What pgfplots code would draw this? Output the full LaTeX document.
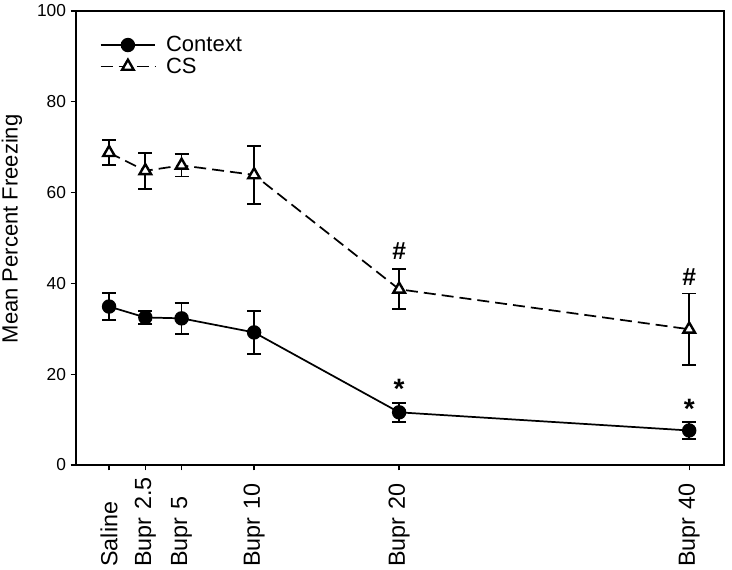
\documentclass[border=0pt]{standalone}
\usepackage{pgfplots}
\pgfplotsset{compat=1.18}
\usepackage{fontspec}
\setmainfont{Liberation Sans}
\begin{document}
\begin{tikzpicture}
\begin{axis}[
  width=486pt, height=340.5pt, scale only axis,
  xmin=-2.28, xmax=42.4, ymin=0, ymax=100,
  xtick={0,2.5,5,10,20,40},
  xticklabels={Saline,Bupr 2.5,Bupr 5,Bupr 10,Bupr 20,Bupr 40},
  ytick={0,20,40,60,80,100},
  tick pos=left, tick align=outside, major tick length=4pt,
  axis line style={line width=1pt}, tick style={line width=1pt, black},
  /pgf/number format/assume math mode=true,
  yticklabel style={font=\fontsize{13}{15}\selectfont},
  xticklabel style={font=\fontsize{17.5}{21}\selectfont, rotate=90, anchor=east, text width=71pt, align=left, inner sep=1pt},
  ylabel={Mean Percent Freezing},
  ylabel style={font=\fontsize{16.5}{20}\selectfont, at={(axis description cs:-0.0756,0.52)}, anchor=south},
  clip=false,
  legend style={draw=none, fill=none, at={(axis description cs:0.03,0.955)}, anchor=north west,
    font=\fontsize{16.5}{19}\selectfont, row sep=0pt,
    nodes={inner sep=1.5pt}},
  legend cell align=left,
  legend image code/.code={\draw[mark repeat=2,mark phase=2,#1] plot coordinates {(0pt,0pt) (20.5pt,0pt) (41pt,0pt)};},
  /tikz/every odd column/.append style={column sep=6pt},
]
\addplot[black, line width=1.3pt, mark=*, mark size=4.75pt,
  error bars/.cd, y dir=both, y explicit,
  error bar style={solid, line width=1.3pt},
  error mark options={rotate=90, mark size=5.25pt, line width=1.3pt, solid}]
coordinates {
  (0,34.9) +- (0,3.0)
  (2.5,32.5) +- (0,1.4)
  (5,32.3) +- (0,3.4)
  (10,29.2) +- (0,4.75)
  (20,11.6) +- (0,2.1)
  (40,7.6) +- (0,1.85)
};
\addlegendentry{Context}
\addplot[black, line width=1.3pt, dash pattern=on 9pt off 4.5pt, mark=triangle*,
  mark options={solid, fill=white, line width=1.8pt}, mark size=5pt,
  error bars/.cd, y dir=both, y explicit,
  error bar style={solid, line width=1.3pt},
  error mark options={rotate=90, mark size=5.25pt, line width=1.3pt, solid}]
coordinates {
  (0,68.8) +- (0,2.75)
  (2.5,64.8) +- (0,3.95)
  (5,66.0) +- (0,2.45)
  (10,63.9) +- (0,6.35)
  (20,38.7) +- (0,4.4)
  (40,29.9) +- (0,7.85)
};
\addlegendentry{CS}
\node[anchor=base, font=\fontsize{18.5}{22}\selectfont\bfseries] at (axis cs:20,45.3) {\#};
\node[anchor=base, font=\fontsize{18.5}{22}\selectfont\bfseries] at (axis cs:40,39.5) {\#};
\node[anchor=base, font=\fontsize{21}{24}\selectfont\bfseries] at (axis cs:20,14.7) {*};
\node[anchor=base, font=\fontsize{21}{24}\selectfont\bfseries] at (axis cs:40,10.3) {*};
\end{axis}
\pgfresetboundingbox
\path[use as bounding box] (-57pt,-78.75pt) rectangle (492pt,348.75pt);
\end{tikzpicture}
\end{document}
